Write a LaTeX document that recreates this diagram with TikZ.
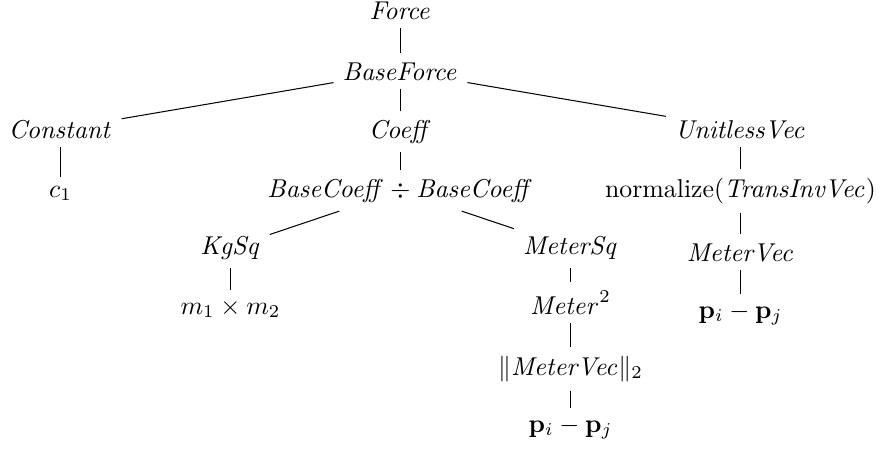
\documentclass[tikz,border=0pt]{standalone}
\usepackage{amsmath}
\begin{document}
\begin{tikzpicture}[x=0.3876pt, y=-0.3876pt,
  tn/.style={anchor=base},
  edge/.style={draw=black, line width=0.4pt}]
\useasboundingbox (0,0) rectangle (883,453);
% level 0-1
\node[tn] (force)  at (400.5, 19)  {$\mathit{Force}$};
\node[tn] (bforce) at (400.5, 80)  {$\mathit{BaseForce}$};
% level 2
\node[tn] (const)  at (60.5, 138)  {$\mathit{Constant}$};
\node[tn] (coeff)  at (400.5, 138) {$\mathit{Coeff}$};
\node[tn] (unit)   at (740.5, 138) {$\mathit{UnitlessVec}$};
% level 3
\node[tn] (c1)     at (60.5, 197)  {$c_1$};
\node[tn] (bcoeff) at (400.5, 197) {$\mathit{BaseCoeff} \div \mathit{BaseCoeff}$};
\node[tn] (norm)   at (740.5, 197) {$\text{normalize}(\mathit{TransInvVec})$};
% level 4
\node[tn] (kgsq)   at (230.5, 254) {$\mathit{KgSq}$};
\node[tn] (msq)    at (570.5, 254) {$\mathit{MeterSq}$};
\node[tn] (mvec)   at (740.5, 261) {$\mathit{MeterVec}$};
% level 5
\node[tn] (mm)     at (230.5, 314) {$m_1 \times m_2$};
\node[tn] (m2)     at (570.5, 314) {$\mathit{Meter}^2$};
\node[tn] (pdr)    at (740.5, 318) {$\mathbf{p}_i - \mathbf{p}_j$};
% level 6-7
\node[tn] (norm2)  at (570.5, 375) {$\|\mathit{MeterVec}\|_2$};
\node[tn] (pd)     at (570.5, 432) {$\mathbf{p}_i - \mathbf{p}_j$};
% connectors
\path[edge] (force) -- (bforce);
\path[edge] (bforce) -- (const);
\path[edge] (bforce) -- (coeff);
\path[edge] (bforce) -- (unit);
\path[edge] (const) -- (c1);
\path[edge] (coeff) -- (bcoeff);
\path[edge] (unit) -- (norm);
\path[edge] (bcoeff) -- (kgsq);
\path[edge] (bcoeff) -- (msq);
\path[edge] (norm) -- (mvec);
\path[edge] (kgsq) -- (mm);
\path[edge] (msq) -- (m2);
\path[edge] (mvec) -- (pdr);
\path[edge] (m2) -- (norm2);
\path[edge] (norm2) -- (pd);
\end{tikzpicture}
\end{document}
